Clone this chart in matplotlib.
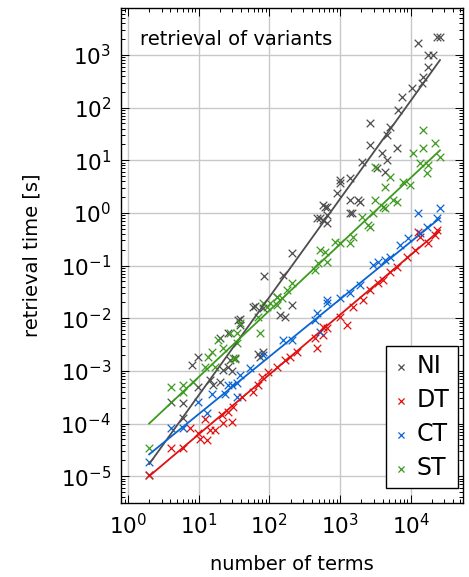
import matplotlib
matplotlib.use("Agg")
import matplotlib.pyplot as plt
import numpy as np
from matplotlib.ticker import LogLocator, NullFormatter, FixedLocator

plt.rcParams['font.family'] = ['DejaVu Sans']
plt.rcParams['mathtext.fontset'] = 'dejavusans'

# ---------------- data ----------------
ni_x = [2, 4.06, 6.0, 6.0, 9.8, 15.9, 20, 14.5, 8.0, 9.8, 22.1, 26, 27.7, 20, 26, 36,
        32.6, 29.6, 38.4, 38.4, 58.6, 62.5, 81, 69, 81, 73.6, 141, 166, 209, 128, 84,
        156, 209, 471, 520, 573, 611, 653, 653, 573, 653, 904, 997, 997, 1381, 1381,
        1792, 1381, 1474, 1911, 2040, 2650, 2650, 3327, 3916, 4318, 4608, 4608, 5077,
        6380, 6590, 7510, 10400, 14400, 14880, 17510, 17510, 20600, 12640, 23480, 25880]
ni_y = [1.04e-5, 2.53e-4, 2.42e-4, 1.26e-4, 4.9e-4, 5.3e-4, 6.1e-4, 6.6e-4, 1.28e-3,
        1.82e-3, 1.03e-3, 1.17e-3, 1.59e-3, 4.17e-3, 5.19e-3, 9.16e-3, 1.74e-3, 9.8e-4,
        9.57e-3, 7.36e-3, 1.62e-2, 1.69e-2, 1.55e-2, 2.07e-3, 2.26e-3, 1.82e-3, 1.14e-2,
        1.04e-2, 1.77e-2, 2.51e-2, 6.29e-2, 6.6e-2, 0.172, 0.80, 0.80, 1.41, 1.29, 0.91,
        0.64, 0.73, 1.29, 2.38, 4.21, 3.69, 4.59, 1.75, 1.75, 0.99, 0.99, 1.60, 9.25,
        19.5, 51, 7.11, 13.7, 5.97, 30.1, 10.1, 42.7, 17.1, 90, 159, 236, 294, 382, 592,
        1000, 1000, 1690, 2200, 2200]

dt_x = [2, 4.06, 6.0, 7.5, 9.8, 10.4, 13.1, 14.5, 17, 21.4, 22.1, 26, 29.6, 30.6, 12.3,
        41, 58.6, 69, 78.5, 95.5, 128, 166, 196, 246, 442, 471, 573, 573, 653, 997, 1253,
        1523, 2108, 2650, 3438, 4047, 5077, 6380, 8840, 11470, 12640, 13490, 17510,
        21990, 23480]
dt_y = [1.04e-5, 3.4e-5, 3.4e-5, 8.1e-5, 6.5e-5, 5.2e-5, 4.8e-5, 7.4e-5, 7.4e-5,
        1.43e-4, 1.01e-4, 1.63e-4, 1.05e-4, 2.03e-4, 1.2e-4, 3.15e-4, 3.9e-4, 5.3e-4,
        7.6e-4, 9.4e-4, 1.17e-3, 1.59e-3, 1.82e-3, 2.26e-3, 4.17e-3, 2.69e-3, 4.75e-3,
        6.74e-3, 6.45e-3, 1.04e-2, 7.36e-3, 1.62e-2, 2.2e-2, 3.4e-2, 4.62e-2, 5.27e-2,
        7.5e-2, 9.3e-2, 0.145, 0.196, 0.431, 0.347, 0.267, 0.378, 0.471]

ct_x = [2, 4.06, 6.0, 9.8, 13.1, 15.4, 23.6, 26, 34.8, 34.8, 29.6, 38.4, 53.2, 81, 156,
        209, 442, 471, 520, 653, 653, 997, 1381, 1911, 2920, 3438, 4318, 5077, 7030,
        9130, 12640, 13490, 16950, 23480, 25880]
ct_y = [1.83e-5, 8.1e-5, 8.1e-5, 2.53e-4, 1.56e-4, 3.7e-4, 3.7e-4, 5.3e-4, 3.15e-4,
        5.8e-4, 5.3e-4, 8.2e-4, 1.12e-3, 1.98e-3, 3.82e-3, 3.82e-3, 9.16e-3, 1.24e-2,
        5.42e-3, 1.93e-2, 2.2e-2, 2.4e-2, 2.99e-2, 4.24e-2, 0.102, 0.116, 0.127, 0.145,
        0.244, 0.332, 0.99, 0.413, 0.537, 0.80, 1.23]

st_x = [2, 4.06, 6.0, 8.3, 6.0, 12.3, 13.5, 15.4, 17, 22.1, 30.6, 34.8, 18.8, 27.7, 34.8,
        32.6, 38.4, 69, 73.6, 92.5, 102, 128, 128, 177, 81, 151, 209, 442, 487, 520, 611,
        653, 847, 997, 1381, 1523, 2040, 2650, 3118, 4047, 4318, 4318, 5077, 6380, 7760,
        9750, 10740, 13490, 14880, 14880, 16950, 17510, 21990, 25880, 3118, 2482, 2920,
        5597]
st_y = [3.5e-5, 4.9e-4, 3.9e-4, 6.1e-4, 5.3e-4, 1.17e-3, 1.82e-3, 2.26e-3, 1.17e-3,
        2.69e-3, 1.74e-3, 5.19e-3, 3.82e-3, 5.19e-3, 3.35e-3, 1.66e-3, 8.03e-3, 1.04e-2,
        5.19e-3, 1.62e-2, 1.93e-2, 2.51e-2, 1.77e-2, 3.4e-2, 1.93e-2, 2.4e-2, 4.62e-2,
        8.2e-2, 0.111, 0.196, 0.18, 0.116, 0.279, 0.267, 0.267, 0.347, 0.83, 0.537, 1.75,
        1.29, 1.23, 3.09, 4.8, 1.6, 3.85, 3.38, 13.7, 8.85, 17.1, 37.5, 5.71, 8.11, 21.2,
        11.5, 7.43, 0.586, 0.99, 1.75]

# fitted trend lines (end points)
fit_x = [2, 26000]
fit_ni = [1.7e-5, 800]
fit_dt = [1.0e-5, 0.47]
fit_ct = [2.6e-5, 0.80]
fit_st = [1.0e-4, 15.5]

labels = ['NI', 'DT', 'CT', 'ST']
colors = ['#4d4d4d', '#e01010', '#0a64d2', '#3c9a1e']

x_ticks = [1, 10, 100, 1000, 10000]
y_ticks = [1e-5, 1e-4, 1e-3, 1e-2, 1e-1, 1, 10, 100, 1000]

# ---------------- figure ----------------
fig = plt.figure(figsize=(4.69, 5.77), dpi=100)
ax = fig.add_axes([121/469, 74/577, 342/469, 495/577])
ax.set_xscale('log')
ax.set_yscale('log')

series = [(ni_x, ni_y, fit_ni), (dt_x, dt_y, fit_dt), (ct_x, ct_y, fit_ct), (st_x, st_y, fit_st)]
for (xs, ys, fy), lab, c in zip(series, labels, colors):
    ax.scatter(xs, ys, marker='x', s=30, linewidths=0.9, color=c, label=lab, zorder=3)
    ax.plot(fit_x, fy, color=c, lw=1.3, zorder=4)

ax.set_xlim(0.8, 5.5e4)
ax.set_ylim(3.1e-6, 7.8e3)

ax.xaxis.set_major_locator(FixedLocator(x_ticks))
ax.yaxis.set_major_locator(FixedLocator(y_ticks))
ax.xaxis.set_minor_locator(LogLocator(base=10, subs=np.arange(2, 10), numticks=50))
ax.yaxis.set_minor_locator(LogLocator(base=10, subs=np.arange(2, 10), numticks=50))
ax.xaxis.set_minor_formatter(NullFormatter())
ax.yaxis.set_minor_formatter(NullFormatter())

ax.tick_params(which='both', direction='in', top=True, right=True, labelsize=15.5, width=0.7)
ax.tick_params(which='major', length=5.5, pad=7)
ax.tick_params(which='minor', length=3)
ax.grid(True, which='major', color='#c8c8c8', lw=1.0, zorder=0)
ax.set_axisbelow(True)
for sp in ax.spines.values():
    sp.set_linewidth(1.0)

ax.set_xlabel('number of terms', fontsize=14, labelpad=12)
ax.set_ylabel('retrieval time [s]', fontsize=14, labelpad=14)
ax.text(0.055, 0.955, 'retrieval of variants', transform=ax.transAxes,
        fontsize=14, ha='left', va='top')

leg = ax.legend(loc='lower right', fontsize=17, frameon=True, fancybox=False,
                edgecolor='black', framealpha=1, handlelength=0.6, handletextpad=0.35,
                labelspacing=0.42, borderpad=0.35, markerscale=0.8, borderaxespad=0,
                bbox_to_anchor=(0.985, 0.03))
leg.get_frame().set_linewidth(1.0)

fig.savefig('out.png', dpi=100)
